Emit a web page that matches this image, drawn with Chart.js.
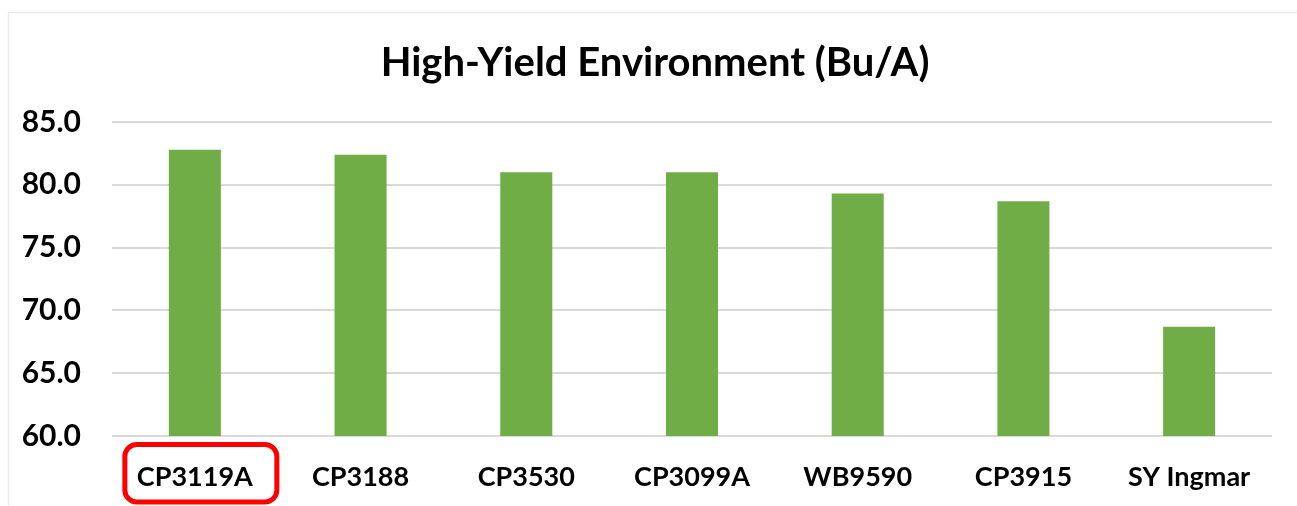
<!DOCTYPE html>
<html>
<head>
<meta charset="utf-8">
<script src="https://cdn.jsdelivr.net/npm/chart.js@4/dist/chart.umd.min.js"></script>
<style>
  html, body { margin: 0; padding: 0; background: #fff; }
  #wrap { width: 1297px; height: 506px; position: relative; }
</style>
</head>
<body>
<div id="wrap"><canvas id="yieldChart"></canvas></div>
<script>
var varieties = ['CP3119A', 'CP3188', 'CP3530', 'CP3099A', 'WB9590', 'CP3915', 'SY Ingmar'];
var yields = [82.8, 82.4, 81.0, 81.0, 79.3, 78.7, 68.7];
var yMin = 60;
var yMax = 85;
var yStep = 5;
var highlighted = 0; // index of the boxed label
var chartTitle = 'High-Yield Environment (Bu/A)';

var fontName = 'Lato';

// faint outer frame of the chart, like the spreadsheet chart border
var framePlugin = {
    id: 'frame',
    beforeDraw: function(chart) {
        var ctx = chart.ctx;
        ctx.save();
        ctx.strokeStyle = '#ececec';
        ctx.lineWidth = 1.5;
        ctx.strokeRect(8.5, 12.5, 1400, 600);
        ctx.restore();
    }
};

// title is centred on the whole chart frame, not on the plot area
var titlePlugin = {
    id: 'frameTitle',
    afterDraw: function(chart) {
        var ctx = chart.ctx;
        ctx.save();
        ctx.fillStyle = '#000';
        ctx.font = 'bold 40px ' + fontName;
        ctx.textAlign = 'center';
        ctx.textBaseline = 'middle';
        ctx.fillText(chartTitle, 655, 62.7);
        ctx.restore();
    }
};

// red rounded box round the highlighted category label
var boxPlugin = {
    id: 'labelBox',
    afterDraw: function(chart) {
        var ctx = chart.ctx;
        var x = chart.scales.x.getPixelForValue(highlighted);
        var left = x - 70, right = x + 82;
        var top = 444.5, bottom = 502;
        var r = 12;
        ctx.save();
        ctx.strokeStyle = '#ff0000';
        ctx.lineWidth = 5;
        ctx.beginPath();
        ctx.roundRect(left, top, right - left, bottom - top, r);
        ctx.stroke();
        ctx.restore();
    }
};

var ctx = document.getElementById('yieldChart');
var myChart = new Chart(ctx, {
    type: 'bar',
    data: {
        labels: varieties,
        datasets: [{
            data: yields,
            backgroundColor: '#70AD47',
            borderWidth: 0,
            barPercentage: 0.314,
            categoryPercentage: 1.0
        }]
    },
    options: {
        responsive: true,
        maintainAspectRatio: false,
        animation: false,
        layout: {
            padding: { left: 0, right: 25, top: 122, bottom: 13 }
        },
        plugins: {
            legend: { display: false },
            tooltip: { enabled: false },
            title: { display: false }
        },
        scales: {
            x: {
                afterFit: function(scale) { scale.height = 57; },
                grid: { display: false, drawTicks: false },
                border: { display: false },
                ticks: {
                    color: '#000',
                    padding: 24.6,
                    maxRotation: 0,
                    font: { family: fontName, size: 27, weight: 'bold' }
                }
            },
            y: {
                min: yMin,
                max: yMax,
                afterFit: function(scale) { scale.width = 112; },
                grid: { color: '#d9d9d9', lineWidth: 2, drawTicks: false },
                border: { display: false },
                ticks: {
                    stepSize: yStep,
                    color: '#000',
                    padding: 31,
                    font: { family: fontName, size: 30, weight: 'bold' },
                    callback: function(v) { return v.toFixed(1); }
                }
            }
        }
    },
    plugins: [framePlugin, titlePlugin, boxPlugin]
});
</script>
</body>
</html>
